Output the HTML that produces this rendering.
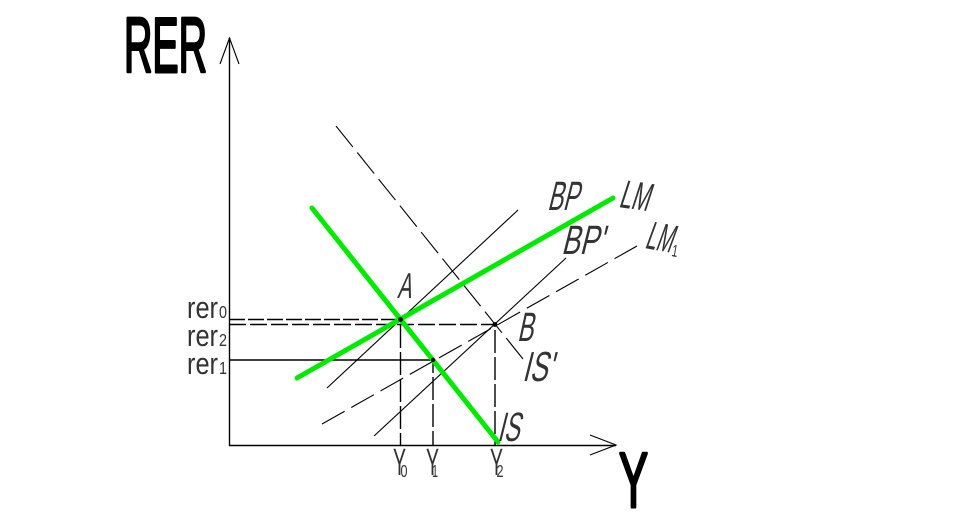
<!DOCTYPE html>
<html>
<head>
<meta charset="utf-8">
<style>
html,body{margin:0;padding:0;background:#fff;width:965px;height:518px;overflow:hidden}
svg{display:block}
text{font-family:"Liberation Sans",sans-serif;fill:#333}
</style>
</head>
<body>
<svg width="965" height="518" viewBox="0 0 965 518" xmlns="http://www.w3.org/2000/svg">
<g fill="none" stroke="#000" stroke-width="1.4">
  <path d="M229.5 38V445.5H616"/>
  <path d="M220 64L229.5 38L239 64" stroke-width="1.1"/>
  <path d="M590 435L616 445L590 455" stroke-width="1.1"/>
  <path d="M229 360H433"/>
  <path d="M229 319.5H401" stroke-dasharray="16 3"/>
  <path d="M229 324.5H495" stroke-dasharray="17 4"/>
  <path d="M400.5 319V445" stroke-dasharray="23 4" stroke-dashoffset="21"/>
  <path d="M433 360V445" stroke-dasharray="23 4" stroke-dashoffset="10"/>
  <path d="M495 324V445" stroke-dasharray="23 4" stroke-dashoffset="21"/>
  <path d="M327 388L518 210" stroke-width="1.1"/>
  <path d="M374 436L566 258" stroke-width="1.1"/>
  <path d="M322 424L637 246" stroke-dasharray="26 7.6" stroke-width="1.1"/>
  <path d="M336 126L523 359" stroke-dasharray="27 7" stroke-width="1.1"/>
</g>
<g fill="none" stroke="#00ea00" stroke-width="5" stroke-linecap="round">
  <path d="M312 208L498 442"/>
  <path d="M297 378L613 198"/>
</g>
<g fill="#000">
  <circle cx="400.5" cy="319.5" r="2.4"/>
  <circle cx="433" cy="360" r="2.2"/>
  <circle cx="495" cy="324.5" r="2.4"/>
</g>

<text x="124" y="72" font-size="78" textLength="83" lengthAdjust="spacingAndGlyphs" style="fill:#000;stroke:#000;stroke-width:3;stroke-linejoin:round">RER</text>
<text x="619" y="507" font-size="78" textLength="29" lengthAdjust="spacingAndGlyphs" style="fill:#000;stroke:#000;stroke-width:3;stroke-linejoin:round">Y</text>

<text x="187" y="318" font-size="31" textLength="31" lengthAdjust="spacingAndGlyphs">rer</text>
<text x="219" y="318" font-size="17.5" textLength="8" lengthAdjust="spacingAndGlyphs">0</text>
<text x="187" y="346" font-size="31" textLength="31" lengthAdjust="spacingAndGlyphs">rer</text>
<text x="219" y="346" font-size="17.5" textLength="8" lengthAdjust="spacingAndGlyphs">2</text>
<text x="187" y="374" font-size="31" textLength="31" lengthAdjust="spacingAndGlyphs">rer</text>
<text x="219" y="374" font-size="17.5" textLength="8" lengthAdjust="spacingAndGlyphs">1</text>

<text x="393" y="475" font-size="38" textLength="13" lengthAdjust="spacingAndGlyphs">Y</text>
<text x="400.5" y="477" font-size="17.5" textLength="7" lengthAdjust="spacingAndGlyphs">0</text>
<text x="426" y="475" font-size="38" textLength="13" lengthAdjust="spacingAndGlyphs">Y</text>
<text x="432" y="477" font-size="17.5" textLength="6" lengthAdjust="spacingAndGlyphs">1</text>
<text x="490" y="475" font-size="38" textLength="13" lengthAdjust="spacingAndGlyphs">Y</text>
<text x="496.5" y="477" font-size="17.5" textLength="7" lengthAdjust="spacingAndGlyphs">2</text>

<text transform="translate(397,298) skewX(-12)" font-size="36" textLength="14" lengthAdjust="spacingAndGlyphs">A</text>
<text transform="translate(517,341) skewX(-12)" font-size="41" textLength="16" lengthAdjust="spacingAndGlyphs">B</text>
<text transform="translate(497,441) skewX(-14)" font-size="41" textLength="22" lengthAdjust="spacingAndGlyphs">IS</text>
<text transform="translate(522,381) skewX(-14)" font-size="42" textLength="30" lengthAdjust="spacingAndGlyphs">IS'</text>
<text transform="translate(547,210) skewX(-14)" font-size="41" textLength="31" lengthAdjust="spacingAndGlyphs">BP</text>
<text transform="translate(561,254) skewX(-14)" font-size="41" textLength="42" lengthAdjust="spacingAndGlyphs">BP'</text>
<text transform="translate(618,207) rotate(8) skewX(-10)" font-size="40" textLength="30" lengthAdjust="spacingAndGlyphs">LM</text>
<text transform="translate(644,248) rotate(10) skewX(-10)" font-size="40" textLength="27" lengthAdjust="spacingAndGlyphs">LM</text>
<text transform="translate(671,256) rotate(10)" font-size="17" textLength="6" lengthAdjust="spacingAndGlyphs">1</text>
</svg>
</body>
</html>
